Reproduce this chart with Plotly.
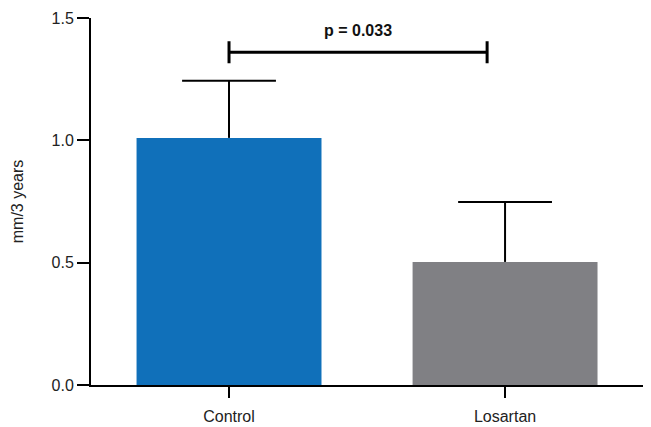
import plotly.graph_objects as go

categories = ["Control", "Losartan"]
means = [1.01, 0.503]
errors_up = [0.234, 0.245]
bar_colors = ["#1070BA", "#808084"]

y_ticks = [0.0, 0.5, 1.0, 1.5]
y_tick_labels = ["0.0", "0.5", "1.0", "1.5"]

p_text = "p = 0.033"
bracket_x = [0, 0.935]
bracket_y = 1.36
bracket_cap = 0.045
p_text_y = 1.45

cap_half = 0.17  # half width of error caps, in category units

positions = list(range(len(categories)))
tops = [m + e for m, e in zip(means, errors_up)]

# page body has an 8px default margin; the figure is sized to compensate
fig = go.Figure()
fig.add_trace(go.Bar(
    x=positions,
    y=means,
    width=0.67,
    marker=dict(color=bar_colors, line=dict(width=0)),
    hoverinfo="skip",
))

stem_x, stem_y, cap_x, cap_y = [], [], [], []
for p, m, t in zip(positions, means, tops):
    stem_x += [p, p, None]
    stem_y += [m, t, None]
    cap_x += [p - cap_half, p + cap_half, None]
    cap_y += [t, t, None]

fig.add_trace(go.Scatter(x=stem_x, y=stem_y, mode="lines",
                         line=dict(color="black", width=2), hoverinfo="skip"))
fig.add_trace(go.Scatter(x=cap_x, y=cap_y, mode="lines",
                         line=dict(color="black", width=2), hoverinfo="skip"))

line_style = dict(color="black", width=3)
fig.add_shape(type="line", x0=bracket_x[0], x1=bracket_x[1], y0=bracket_y, y1=bracket_y,
              xref="x", yref="y", line=line_style)
for bx in bracket_x:
    fig.add_shape(type="line", x0=bx, x1=bx, y0=bracket_y - bracket_cap,
                  y1=bracket_y + bracket_cap, xref="x", yref="y", line=line_style)

fig.add_annotation(x=sum(bracket_x) / 2, y=p_text_y, text="<b>" + p_text + "</b>",
                   showarrow=False, xref="x", yref="y",
                   font=dict(family="Liberation Sans, Arial", size=16, color="#111"))

fig.update_layout(
    width=643, height=419,
    margin=dict(l=83, r=6, t=10, b=42),
    paper_bgcolor="white", plot_bgcolor="white",
    showlegend=False,
    font=dict(family="Liberation Sans, Arial", size=16, color="#222"),
    xaxis=dict(range=[-0.5, 1.507], tickmode="array", tickvals=positions,
               ticktext=categories, showline=True, linecolor="black", linewidth=2,
               ticks="outside", ticklen=11, tickwidth=2, tickcolor="black",
               ticklabelstandoff=5, automargin=False,
               showgrid=False, zeroline=False, fixedrange=True),
    yaxis=dict(range=[0, 1.5], tickmode="array", tickvals=y_ticks,
               ticktext=y_tick_labels, showline=True, linecolor="black", linewidth=2,
               ticks="outside", ticklen=12, tickwidth=2, tickcolor="black",
               automargin=False,
               showgrid=False, zeroline=False, fixedrange=True,
               title=dict(text="mm/3 years", standoff=24,
                          font=dict(size=16))),
)

fig.write_html("out.html")
